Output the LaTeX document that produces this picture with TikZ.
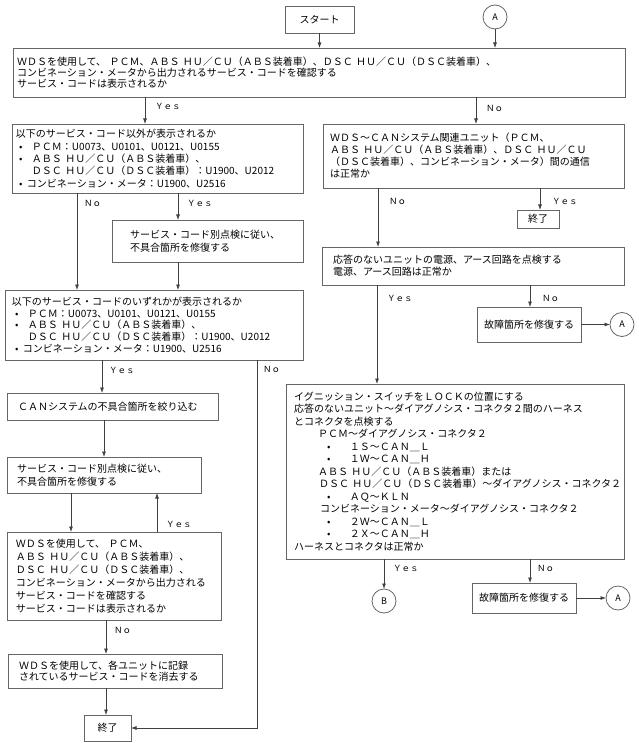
\documentclass[tikz,border=0pt]{standalone}
\usepackage{fontspec}
\setmainfont{Noto Sans CJK JP}
\usetikzlibrary{arrows.meta}
\tikzset{
 box/.style={draw=black!60, line width=0.8pt, rectangle, inner ysep=0pt, outer sep=0pt, align=left},
 sbox/.style={draw=black!60, line width=0.8pt, rectangle, inner sep=0pt, outer sep=0pt, align=center, font=\fontsize{10}{12}\selectfont},
 arr/.style={draw=black!75, line width=0.7pt, -{Latex[length=5.5pt,width=4pt]}},
 lbl/.style={anchor=west, inner sep=0pt, font=\fontsize{8.5}{10}\selectfont},
 conn/.style={draw=black!60, line width=0.8pt, circle, minimum size=24pt, inner sep=0pt, outer sep=0pt, font=\fontsize{9}{10}\selectfont},
}
\newcommand\mybox[8]{%
 \pgfmathsetmacro\bw{#4-#2}%
 \pgfmathsetmacro\bh{#5-#3}%
 \pgfmathsetmacro\tw{#4-#2-2*#6}%
 \node[box, anchor=north west, minimum width=\bw pt, minimum height=\bh pt, text width=\tw pt, inner xsep=#6pt, font=\fontsize{10}{#7}\selectfont] (#1) at (#2,#3) {#8};}
\newcommand\bul{\hspace*{3pt}\makebox[13pt][l]{•}}
\newcommand\bulb{\hspace*{3pt}\makebox[8pt][l]{•}}
\newcommand\bulc{\hspace*{33pt}\makebox[23pt][l]{•}}
\begin{document}
\begin{tikzpicture}[x=1pt,y=-1pt]
\useasboundingbox (0,0) rectangle (638,743);
% ---- top
\node[sbox, minimum width=69pt, minimum height=27pt] (start) at (319.5,19.5) {スタート};
\node[conn] (A1) at (495,17) {A};
\mybox{b1}{13}{48}{625}{97}{4}{11}{ＷＤＳを使用して、~ＰＣＭ、ＡＢＳ~ＨＵ／ＣＵ（ＡＢＳ装着車）、ＤＳＣ~ＨＵ／ＣＵ（ＤＳＣ装着車）、\\コンビネーション・メータから出力されるサービス・コードを確認する\\サービス・コードは表示されるか}
% ---- left column
\mybox{b2}{12}{124}{303}{193}{4}{12.3}{以下のサービス・コード以外が表示されるか\\\bul ＰＣＭ：U0073、U0101、U0121、U0155\\\bul ＡＢＳ~ＨＵ／ＣＵ（ＡＢＳ装着車）、\\\hspace*{16pt}ＤＳＣ~ＨＵ／ＣＵ（ＤＳＣ装着車）：U1900、U2012\\\bulb コンビネーション・メータ：U1900、U2516}
\mybox{b3}{112}{220}{303}{262}{18}{13}{サービス・コード別点検に従い、\\不具合箇所を修復する}
\mybox{b4}{5}{290}{303}{360}{7}{11.8}{以下のサービス・コードのいずれかが表示されるか\\\bul ＰＣＭ：U0073、U0101、U0121、U0155\\\bul ＡＢＳ~ＨＵ／ＣＵ（ＡＢＳ装着車）、\\\hspace*{16pt}ＤＳＣ~ＨＵ／ＣＵ（ＤＳＣ装着車）：U1900、U2012\\\bulb コンビネーション・メータ：U1900、U2516}
\mybox{b5}{7}{393}{218}{420}{11}{13}{ＣＡＮシステムの不具合箇所を絞り込む}
\mybox{b6}{7}{457}{201}{493}{10}{13}{サービス・コード別点検に従い、\\不具合箇所を修復する}
\mybox{b7}{7}{532}{221}{620}{9}{13}{ＷＤＳを使用して、~ＰＣＭ、\\ＡＢＳ~ＨＵ／ＣＵ（ＡＢＳ装着車）、\\ＤＳＣ~ＨＵ／ＣＵ（ＤＳＣ装着車）、\\コンビネーション・メータから出力される\\サービス・コードを確認する\\サービス・コードは表示されるか}
\mybox{b8}{8}{654}{222}{688}{11}{11.5}{ＷＤＳを使用して、各ユニットに記録\\されているサービス・コードを消去する}
\node[sbox, minimum width=47pt, minimum height=26pt] (end1) at (107.5,728) {終了};
% ---- right column
\mybox{b9}{323}{124}{624}{188}{7}{12}{ＷＤＳ～ＣＡＮシステム関連ユニット（ＰＣＭ、\\ＡＢＳ~ＨＵ／ＣＵ（ＡＢＳ装着車）、ＤＳＣ~ＨＵ／ＣＵ\\（ＤＳＣ装着車）、コンビネーション・メータ）間の通信\\は正常か}
\node[sbox, minimum width=42pt, minimum height=18pt] (end2) at (538,219) {終了};
\mybox{b10}{322}{247}{624}{285}{11}{12}{応答のないユニットの電源、アース回路を点検する\\電源、アース回路は正常か}
\node[sbox, minimum width=104pt, minimum height=35pt] (b12) at (529,324.5) {故障箇所を修復する};
\node[conn] (A2) at (622,324.5) {A};
\mybox{b11}{286}{384}{624}{559}{8}{12.5}{イグニッション・スイッチをＬＯＣＫの位置にする\\応答のないユニット～ダイアグノシス・コネクタ２間のハーネス\\とコネクタを点検する\\\hspace*{24pt}ＰＣＭ～ダイアグノシス・コネクタ２\\\bulc １Ｓ～ＣＡＮ＿Ｌ\\\bulc １Ｗ～ＣＡＮ＿Ｈ\\\hspace*{24pt}ＡＢＳ~ＨＵ／ＣＵ（ＡＢＳ装着車）または\\\hspace*{25pt}ＤＳＣ~ＨＵ／ＣＵ（ＤＳＣ装着車）～ダイアグノシス・コネクタ２\\\bulc ＡＱ～ＫＬＮ\\\hspace*{26pt}コンビネーション・メータ～ダイアグノシス・コネクタ２\\\bulc ２Ｗ～ＣＡＮ＿Ｌ\\\bulc ２Ｘ～ＣＡＮ＿Ｈ\\ハーネスとコネクタは正常か}
\node[conn] (B) at (384,601) {B};
\node[sbox, minimum width=104pt, minimum height=30pt] (b13) at (524,598) {故障箇所を修復する};
\node[conn] (A3) at (618,598) {A};
% ---- connectors
\draw[arr] (start.south) -- (start.south |- b1.north);
\draw[arr] (A1.south) -- (A1.south |- b1.north);
\draw[arr] (b1.south -| 145,0) -- (b2.north -| 145,0);
\node[lbl] (l1) at (155,106) {Ｙｅｓ};
\draw[arr] (b1.south -| 476,0) -- (b9.north -| 476,0);
\node[lbl] (l2) at (486,108) {Ｎｏ};
\draw[arr] (b2.south -| 77,0) -- (b4.north -| 77,0);
\node[lbl] (l3) at (84,203) {Ｎｏ};
\draw[arr] (b2.south -| 178,0) -- (b3.north -| 178,0);
\node[lbl] (l4) at (187,203) {Ｙｅｓ};
\draw[arr] (b3.south -| 178,0) -- (b4.north -| 178,0);
\draw[arr] (b9.south -| 378,0) -- (b10.north -| 378,0);
\node[lbl] (l5) at (389,201) {Ｎｏ};
\draw[arr] (b9.south -| 540,0) -- (end2.north -| 540,0);
\node[lbl] (l6) at (552,201) {Ｙｅｓ};
\draw[arr] (b10.south -| 377,0) -- (b11.north -| 377,0);
\node[lbl] (l7) at (387,298) {Ｙｅｓ};
\draw[arr] (b10.south -| 530,0) -- (b12.north -| 530,0);
\node[lbl] (l8) at (542,298) {Ｎｏ};
\draw[arr] (b12.east) -- (A2.west);
\draw[arr] (b4.south -| 102,0) -- (b5.north -| 102,0);
\node[lbl] (l9) at (109,370) {Ｙｅｓ};
\draw[arr] (b4.south -| 257,0) |- (end1.east);
\node[lbl] (l10) at (263,369) {Ｎｏ};
\draw[arr] (b5.south -| 104,0) -- (b6.north -| 104,0);
\draw[arr] (b6.south -| 71,0) -- (b7.north -| 71,0);
\draw[arr] (b7.north -| 157,0) -- (b6.south -| 157,0);
\node[lbl] (l11) at (166,524) {Ｙｅｓ};
\draw[arr] (b7.south -| 106,0) -- (b8.north -| 106,0);
\node[lbl] (l12) at (114,630) {Ｎｏ};
\draw[arr] (b8.south -| 106,0) -- (end1.north -| 106,0);
\draw[arr] (b11.south -| 384,0) -- (B.north);
\node[lbl] (l13) at (393,568) {Ｙｅｓ};
\draw[arr] (b11.south -| 530,0) -- (b13.north -| 530,0);
\node[lbl] (l14) at (537,568) {Ｎｏ};
\draw[arr] (b13.east) -- (A3.west);
\end{tikzpicture}
\end{document}
